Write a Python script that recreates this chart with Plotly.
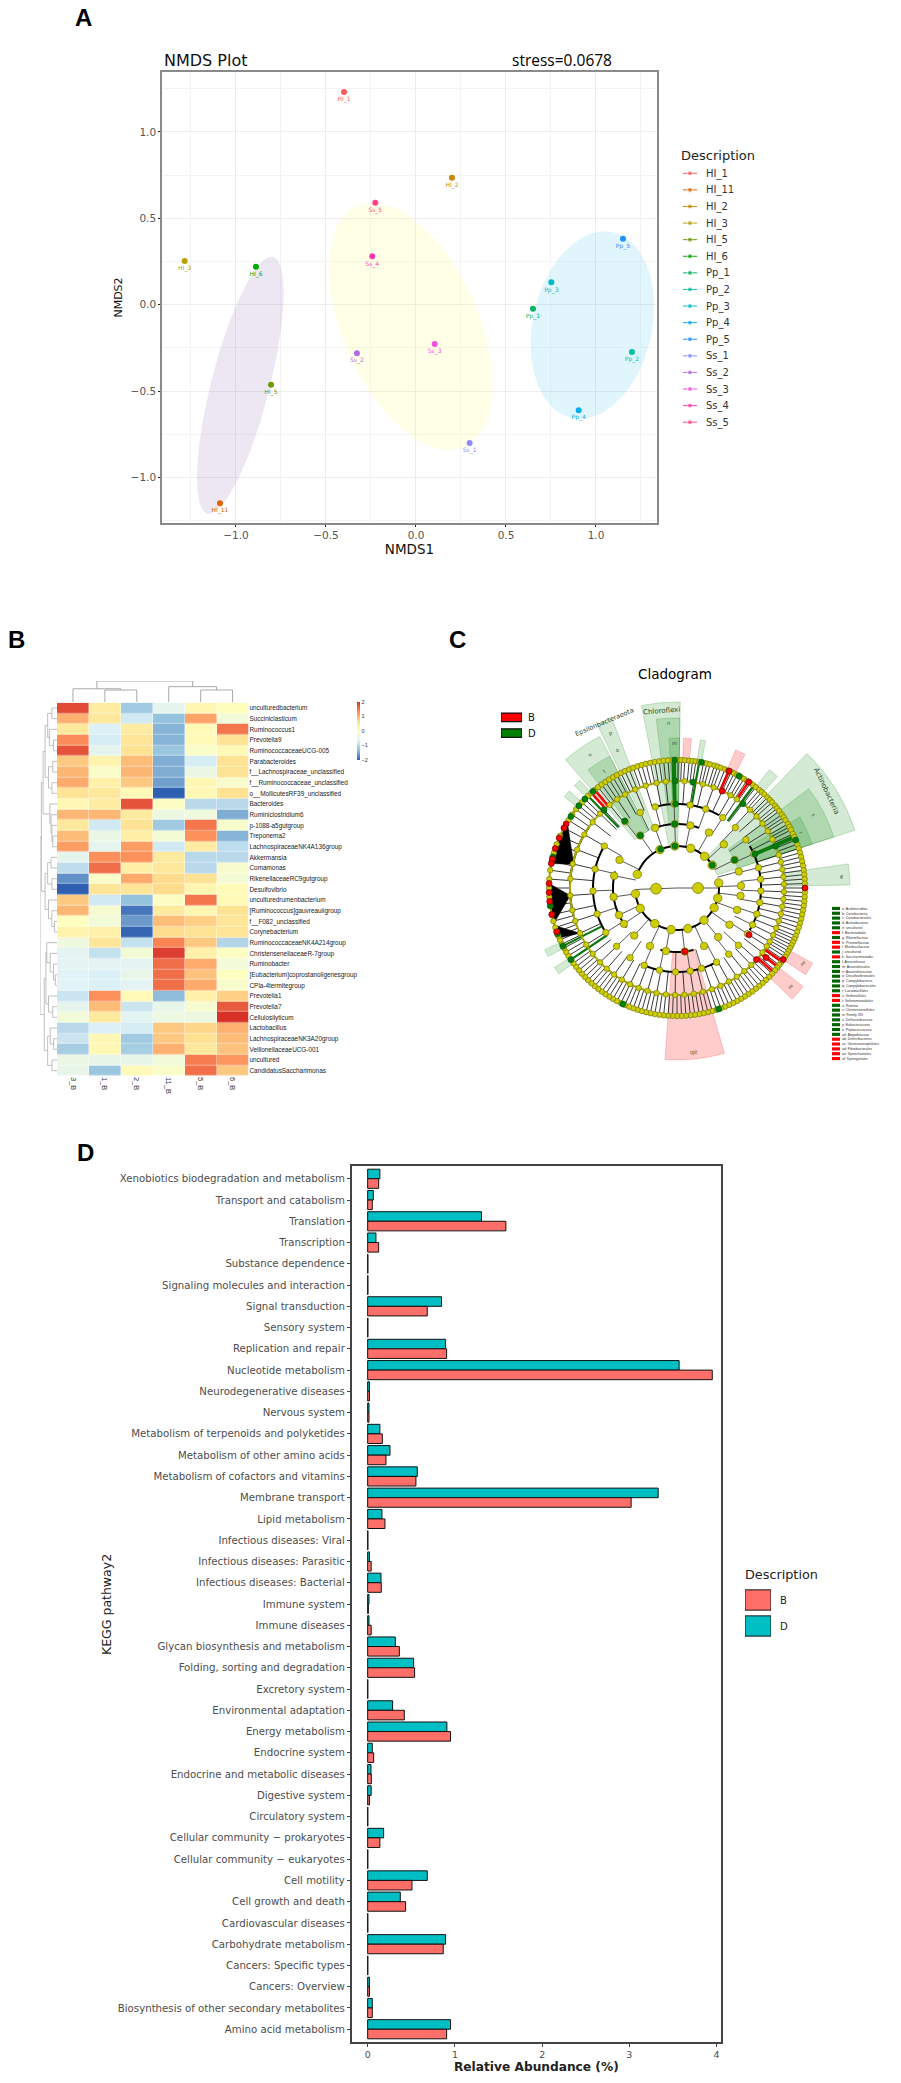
import numpy as np
import plotly.graph_objects as go

W, H = 901, 2083

# ---------- Panel A data
samples = ["HI_1","HI_11","HI_2","HI_3","HI_5","HI_6","Pp_1","Pp_2","Pp_3","Pp_4","Pp_5","Ss_1","Ss_2","Ss_3","Ss_4","Ss_5"]
nmds1 = [-0.40,-1.089,0.20,-1.285,-0.805,-0.889,0.65,1.20,0.752,0.904,1.15,0.298,-0.328,0.104,-0.243,-0.226]
nmds2 = [1.231,-1.148,0.735,0.253,-0.463,0.22,-0.023,-0.274,0.13,-0.61,0.382,-0.80,-0.28,-0.227,0.28,0.59]
sample_colors = ["#FF5A5A","#E06400","#CC8800","#B8A000","#6A9900","#00AA00","#00B560","#00BFA5","#00B8CC","#00AEEF","#1E90FF","#8A8CFF","#B36BE8","#EE50DC","#FF38B0","#FF3F8C"]
# centre x, centre y, sd x, sd y, correlation, fill
ell_cx = [-0.976,-0.03,0.98]
ell_cy = [-0.466,-0.125,-0.118]
ell_sx = [0.241,0.455,0.343]
ell_sy = [0.744,0.715,0.543]
ell_r = [0.72,-0.47,0.2]
ell_fill = ["rgba(150,110,190,0.17)","rgba(255,255,120,0.18)","rgba(90,200,240,0.18)"]

# ---------- Panel B data
genera = ["unculturedbacterium","Succiniclasticum","Ruminococcus1","Prevotella9","RuminococcaceaeUCG-005","Parabacteroides","f__Lachnospiraceae_unclassified","f__Ruminococcaceae_unclassified","o__MollicutesRF39_unclassified","Bacteroides","Ruminiclostridium6","p-1088-a5gutgroup","Treponema2","LachnospiraceaeNK4A136group","Akkermansia","Comamonas","RikenellaceaeRC9gutgroup","Desulfovibrio","unculturedrumenbacterium","[Ruminococcus]gauvreauiigroup","f__F082_unclassified","Corynebacterium","RuminococcaceaeNK4A214group","ChristensenellaceaeR-7group","Ruminobacter","[Eubacterium]coprostanoligenesgroup","CPla-4termitegroup","Prevotella1","Prevotella7","Cellulosilyticum","Lactobacillus","LachnospiraceaeNK3A20group","VeillonellaceaeUCG-001","uncultured","CandidatusSaccharimonas"]
heat_cols = ["3_B","1_B","2_B","11_B","5_B","6_B"]
heat_z = [
[1.8,.4,-1.2,-.55,.2,.05],[1.05,.5,-.8,-1.3,1.15,-.3],[.5,-.7,.4,-1.4,.1,1.5],[1.35,-.75,.55,-1.4,.1,.6],
[1.75,-.55,.6,-1.25,-.1,.1],[.85,.25,.95,-1.45,-.75,.6],[1.0,-.1,1.0,-1.45,-.45,.6],[1.1,.3,.85,-1.55,.15,-.15],
[.6,.5,.1,-2,.15,.65],[.15,.4,1.75,-.05,-1,-1],[1.0,1.0,.45,-.4,-.35,-1.45],[.5,-.8,.6,-1.2,1.5,-.15],
[.95,-.45,.35,-.25,1.3,-1.4],[1.2,-.55,1.2,-.8,.4,-.95],[-.55,1.3,1.3,.45,-1,-1],[-.95,1.55,.35,.5,-1,-.15],
[-1.65,-.1,1.1,.7,.6,-.25],[-2,.55,.55,.7,.2,.1],[.85,-.8,-1.3,-.05,1.5,.1],[1.0,-.2,-1.85,.45,.2,.6],
[0,-.3,-1.6,.95,.8,.55],[.25,.3,-1.95,.7,.6,.55],[-.35,.55,-.9,1.4,.85,-1.05],[-.6,-.9,-.25,1.9,.3,-.05],
[-.6,-.6,-.6,1.55,1.1,-.3],[-.65,-.7,-.5,1.55,.9,.0],[-.65,-.7,-.6,1.55,1.1,-.15],[-.85,1.3,.1,-1.35,.3,.8],
[-.55,.95,-.85,-.5,-.2,1.7],[-.3,.45,-.6,-.4,-.4,2.0],[-1,-.7,-.75,.85,.75,1.05],[-.85,.15,-1.2,.85,.65,.95],
[-1.15,.15,-1.15,1.05,.5,.9],[-.45,-.5,-.5,-.3,1.45,1.25],[-.5,-1.25,.1,-.1,1.55,.85]]
heat_scale = ["#2F5FB0","#91BFDB","#E0F3F8","#FFFFBF","#FEE090","#FC8D59","#D73027"]
col_tree = (1.0,(.63,0,(.57,1,2)),(.73,3,(.57,4,5)))
_t1 = (.55,(.3,0,1),(.45,2,(.2,3,4)))
_t2 = (.5,(.25,5,6),(.3,7,8))
_t3 = (.42,9,(.35,10,(.3,11,(.25,12,13))))
_t4 = (.55,(.35,14,15),(.3,16,17))
_t5 = (.5,18,(.3,19,(.15,20,21)))
_t6 = (.6,22,(.4,23,(.2,24,(.1,25,26))))
_t7 = (.5,27,(.25,28,29))
_t8 = (.4,30,(.2,31,32))
_t9 = (.3,33,34)
row_tree = (1.0,(.92,(.82,(.7,_t1,_t2),_t3),(.7,_t4,_t5)),(.75,(.65,_t6,_t7),(.55,_t8,_t9)))

# ---------- Panel C data (angles clockwise from the top, radii in level units)
level_r = [21,42,64,84,107,128]
level_angles = [
 [90,268],
 [289,336,357,19,41,57,83,104,118,140,165,188,212,241,262],
 [245,262,281,296,325,340,358,12,30,47,64,75,88,97,110,125,140,155,173,190,205,222,236],
 [238,252,268,283,300,322,334,345,358,9,20,33,44,55,66,76,84,92,100,108,116,123,133,142,152,163,171,181,192,203,214,226],
 [232,238,245,252,258,266,275,283,291,300,308,314,317,321,326,331,337,343,349,354,359,4,9,14,20,25,30,34,38,43,48,53,58,63,67,72,76,80,84,88,92,96,100,104,108,112,116,120,123,127,132,136,141,146,151,156,161,166,171,176,181,186,191,196,201,206,211,216,221,226],
 [0.5,2,3.5,5.5,7,8.5,10,12,13.5,15,17,18.5,20,22,23.5,25,26.5,28,30,31.5,33,35,36.5,38,40,41.5,43,45,46.5,48,50,51.5,53,55,56.5,58,60,61.5,63,65,66.5,68,70,72,74,76,78,80,82,84,86,88,90,92,94,96,98,100,102,104,106,108,110,112,113.5,115,116.5,118,119.5,121,122.5,124,125.5,127,128.5,130,132,134,136,138,140,142,144,146,148,150,152,154,156,158,160,162,164,166,168,170,172,174,176,178,180,182,184,186,188,190,192,194,196,198,200,202,204,206,208,210,212,214,216,218,220,222,224,226,228,230,232,234,236,238,240,242,244,246,248,250,252,255,258,262,266,270,274,278,282,286,290,294,298,302,305,308,310,312,314,316,318,320,322,324,326,328,330,332,334,336,338,340,342,344,346,348,350,352,354,356,358]]
node_size = [11,8.5,7.5,6.5,5.5,5.5]
green_theta = [359,359,359,358,357,337,325,322,11,8.5,29,38,68,67,66.4,64,57,205,161,319,314,317,310,304,284,262,249,243,236]
green_r = [128,107,84,64,42,42,64,85,128,107,128,107,128,107,85,64,42,128,128,128,128,107,128,128,128,128,128,128,128]
red_theta = [24,25,34,90,173,123,128,132,124,300,298,293,288,283,281,272,268,264,258,250]
red_r = [128,107,128,128,64,86,113,107,128,128,128,128,128,128,128,128,128,128,128,128]
arc_r = [42,42,64,64,64,84,84,84,84,107]
arc_a = [289,83,232,340,165,240,345,60,150,255]
arc_b = [417,262,285,380,195,300,390,120,205,305]
fan_apex = [283,266,245]
fan_apex_r = [106,107,107]
fan_a = [281,254,247]
fan_b = [301,272,253]
red_spokes = [318,320,24,34,125,128,131]
green_spokes = [358,359,10,37,66,67,316,243,236]
wedge_a = [44,53,60,82,-11,-7,-3,-41,-37,-26,2.5,9,23,38,-45,-51,242,234,164,119,128]
wedge_b = [72,72,72,89,1,1,1,-27,-27,-21,5.5,11,27,42,-42,-48,245,237,184,124,134]
wedge_r0 = [42,64,84,107,42,64,84,64,64,64,130,130,130,130,130,130,130,130,64,130,130]
wedge_r1 = [187,165,142,173,186,170,150,170,148,182,150,150,150,150,145,145,146,146,172,155,160]
wedge_kind = ["D","D","D","D","D","D","D","D","D","D","B","D","B","D","D","D","D","D","B","B","B"]
lefse_names = ["a: Acidimicrobiia","b: Coriobacteriia","c: Coriobacteriales","d: Actinobacteria","e: uncultured","f: Bacteroidales","g: Rikenellaceae","h: Prevotellaceae","i: Muribaculaceae","j: uncultured","k: Saccharimonadia","l: Anaerolineae","m: Anaerolineales","n: Anaerolineaceae","o: Desulfovibrionales","p: Campylobacteria","q: Campylobacterales","r: Lactobacillales","s: Veillonellales","t: Selenomonadales","u: Rumino","v: Christensenellales","w: Family XIII","x: Defluviitaleaceae","y: Eubacteriaceae","z: Peptococcaceae","a0: Atopobiaceae","ab: Deferribacteres","ac: Gastranaerophilales","ad: Fibrobacterales","ae: Spirochaetales","af: Synergistales"]
lefse_groups = ["D","D","D","D","D","B","D","B","B","D","B","D","D","D","D","D","D","D","B","B","D","D","D","D","D","D","D","B","B","B","B","B"]

# ---------- Panel D data
pathways = ["Xenobiotics biodegradation and metabolism","Transport and catabolism","Translation","Transcription","Substance dependence","Signaling molecules and interaction","Signal transduction","Sensory system","Replication and repair","Nucleotide metabolism","Neurodegenerative diseases","Nervous system","Metabolism of terpenoids and polyketides","Metabolism of other amino acids","Metabolism of cofactors and vitamins","Membrane transport","Lipid metabolism","Infectious diseases: Viral","Infectious diseases: Parasitic","Infectious diseases: Bacterial","Immune system","Immune diseases","Glycan biosynthesis and metabolism","Folding, sorting and degradation","Excretory system","Environmental adaptation","Energy metabolism","Endocrine system","Endocrine and metabolic diseases","Digestive system","Circulatory system","Cellular community − prokaryotes","Cellular community − eukaryotes","Cell motility","Cell growth and death","Cardiovascular diseases","Carbohydrate metabolism","Cancers: Specific types","Cancers: Overview","Biosynthesis of other secondary metabolites","Amino acid metabolism"]
abund_D = [.14,.065,1.305,.095,.003,.003,.847,.003,.893,3.57,.02,.015,.14,.256,.569,3.33,.164,.003,.02,.153,.015,.015,.317,.527,.002,.286,.908,.053,.038,.04,.002,.183,.002,.683,.374,.002,.893,.002,.02,.053,.95]
abund_B = [.126,.053,1.584,.126,.003,.003,.683,.003,.905,3.95,.02,.015,.168,.21,.553,3.02,.198,.003,.04,.156,.008,.04,.363,.538,.002,.42,.95,.069,.042,.02,.002,.14,.002,.508,.435,.002,.866,.002,.02,.053,.905]
group_names = ["B","D"]
group_colors = ["#FF6F69","#00BFC4"]

# ---------- helpers
def dx(a, b): return [a / W, b / W]
def dy(top, bottom): return [1 - bottom / H, 1 - top / H]

fig = go.Figure()
annots = []
def ann(text, x, y, size, color="#000", family="DejaVu Sans", rot=0, anchor="center"):
    annots.append(dict(text=text, x=x / W, y=1 - y / H, xref="paper", yref="paper", showarrow=False,
                       font=dict(size=size, color=color, family=family), textangle=rot,
                       xanchor=anchor, yanchor="middle"))
hidden = dict(visible=False, showgrid=False, zeroline=False)

# ---------- Panel A
t = np.linspace(0, 2 * np.pi, 181)
for cx, cy, sx, sy, r, c in zip(ell_cx, ell_cy, ell_sx, ell_sy, ell_r, ell_fill):
    fig.add_trace(go.Scatter(x=cx + sx * np.cos(t), y=cy + sy * (r * np.cos(t) + np.sqrt(1 - r * r) * np.sin(t)),
                             mode="lines", line=dict(width=0), fill="toself", fillcolor=c, xaxis="x", yaxis="y",
                             hoverinfo="skip", showlegend=False))
for s, a, b, c in zip(samples, nmds1, nmds2, sample_colors):
    fig.add_trace(go.Scatter(x=[a], y=[b], mode="markers+text", text=[s], textposition="bottom center",
                             textfont=dict(size=6, color=c, family="DejaVu Sans"), marker=dict(size=6, color=c),
                             name=s, xaxis="x", yaxis="y", showlegend=False))
    fig.add_trace(go.Scatter(x=[0, .5, 1], y=[s, s, s], mode="lines+markers", line=dict(color=c, width=1),
                             marker=dict(size=[0, 5, 0], color=c), xaxis="x2", yaxis="y2", hoverinfo="skip", showlegend=False))
gridc = "#ECECEC"
axA = dict(showline=True, mirror=True, linecolor="#8A8A8A", linewidth=1.6, zeroline=False, showgrid=True, gridcolor=gridc,
           gridwidth=1.4, minor=dict(showgrid=True, gridcolor="#F4F4F4", gridwidth=1, dtick=0.25, tick0=0),
           ticks="outside", ticklen=2, tickcolor="#222", dtick=0.5, tick0=0, tickformat=".1f",
           tickfont=dict(size=10.5, color="#555", family="DejaVu Sans"))
xaxis = dict(axA, domain=dx(162, 657), range=[-1.411, 1.339], anchor="y",
             title=dict(text="NMDS1", standoff=3, font=dict(size=13.5, color="#111", family="DejaVu Sans")))
yaxis = dict(axA, domain=dy(72, 523), range=[-1.263, 1.347], anchor="x",
             title=dict(text="NMDS2", standoff=6, font=dict(size=11, color="#111", family="DejaVu Sans")))
xaxis2 = dict(hidden, domain=dx(683, 697), range=[0, 1], anchor="y2")
yaxis2 = dict(domain=dy(165, 430.5), type="category", categoryorder="array", categoryarray=samples, range=[15.5, -0.5],
              side="right", anchor="x2", showgrid=False, zeroline=False, showline=False, ticks="", ticklabelstandoff=8,
              tickfont=dict(size=10, color="#333", family="DejaVu Sans"))
ann("NMDS Plot", 162, 60, 16, "#111", anchor="left")
ann("stress=0.0678", 510, 60, 15.5, "#000", "Open Sans", anchor="left")
ann("Description", 679, 155, 13, "#222", anchor="left")
ann("<b>A</b>", 83, 18, 24, "#000", "Liberation Sans")
ann("<b>B</b>", 16, 640, 24, "#000", "Liberation Sans")
ann("<b>C</b>", 457, 640, 24, "#000", "Liberation Sans")
ann("<b>D</b>", 85, 1152, 24, "#000", "Liberation Sans")

# ---------- Panel B
fig.add_trace(go.Heatmap(z=heat_z, x=heat_cols, y=genera, coloraxis="coloraxis", xgap=0.4, ygap=0.4, xaxis="x3", yaxis="y3"))
xaxis3 = dict(domain=dx(57, 248.5), anchor="y3", type="category", side="bottom", ticks="", showgrid=False, zeroline=False,
              tickangle=90, tickfont=dict(size=7.5, color="#333", family="Liberation Sans"))
yaxis3 = dict(domain=dy(702.7, 1076), anchor="x3", type="category", categoryorder="array", categoryarray=genera,
              range=[34.5, -0.5], side="right", ticks="", showgrid=False, zeroline=False,
              tickfont=dict(size=6.4, color="#222", family="Liberation Sans"))
def tree_segments(node):
    if not isinstance(node, tuple):
        return float(node), 0.0, [], []
    h, a, b = node
    pa, ha, ua, va = tree_segments(a)
    pb, hb, ub, vb = tree_segments(b)
    u = ua + ub + [pa, pa, pb, pb, None]
    v = va + vb + [ha, h, h, hb, None]
    return (pa + pb) / 2, h, u, v
_, _, cu, cv = tree_segments(col_tree)
fig.add_trace(go.Scatter(x=cu, y=cv, mode="lines", line=dict(color="#A0A0A0", width=0.9), xaxis="x4", yaxis="y4", hoverinfo="skip", showlegend=False))
xaxis4 = dict(hidden, domain=dx(57, 248.5), range=[-0.5, 5.5], anchor="y4")
yaxis4 = dict(hidden, domain=dy(681, 702), range=[0, 1], anchor="x4")
_, _, ru, rv = tree_segments(row_tree)
fig.add_trace(go.Scatter(x=rv, y=ru, mode="lines", line=dict(color="#B0B0B0", width=0.8), xaxis="x5", yaxis="y5", hoverinfo="skip", showlegend=False))
xaxis5 = dict(hidden, domain=dx(40, 57), range=[1, 0], anchor="y5")
yaxis5 = dict(hidden, domain=dy(702.7, 1076), range=[34.5, -0.5], anchor="x5")

# ---------- Panel C
polar = dict(domain=dict(x=dx(677 - 190, 677 + 190), y=dy(888 - 190, 888 + 190)), bgcolor="rgba(0,0,0,0)", barmode="overlay",
             radialaxis=dict(visible=False, range=[0, 190]),
             angularaxis=dict(visible=False, direction="clockwise", rotation=90))
kind_fill = {"D": "rgba(0,128,0,0.17)", "B": "rgba(255,0,0,0.2)"}
kind_line = {"D": "rgba(0,128,0,0.25)", "B": "rgba(255,0,0,0.25)"}
fig.add_trace(go.Barpolar(theta=[(a + b) / 2 for a, b in zip(wedge_a, wedge_b)], width=[b - a for a, b in zip(wedge_a, wedge_b)],
                          base=wedge_r0, r=[r1 - r0 for r0, r1 in zip(wedge_r0, wedge_r1)],
                          marker=dict(color=[kind_fill[k] for k in wedge_kind], line=dict(color=[kind_line[k] for k in wedge_kind], width=0.8)),
                          subplot="polar", hoverinfo="skip", showlegend=False))
def spokes(angles, r0, r1, color, width):
    th, rr = [], []
    for a in angles:
        th += [a, a, None]
        rr += [r0, r1, None]
    fig.add_trace(go.Scatterpolar(theta=th, r=rr, mode="lines", line=dict(color=color, width=width), subplot="polar", hoverinfo="skip", showlegend=False))
spokes(level_angles[0], 0, level_r[1], "#555", 1)
for i in range(1, 5):
    spokes(level_angles[i + 1], level_r[i], level_r[i + 1], "#222" if i > 2 else "#444", 0.9)
spokes(red_spokes, 107, 128, "#F00", 2.6)
spokes(green_spokes, 84, 128, "#0A7A0A", 2.2)
for a, b, rr in zip(arc_a, arc_b, arc_r):
    th = np.linspace(a, b, 40)
    fig.add_trace(go.Scatterpolar(theta=th, r=[rr] * 40, mode="lines", line=dict(color="#000", width=2), subplot="polar", hoverinfo="skip", showlegend=False))
for ap, apr, a, b in zip(fan_apex, fan_apex_r, fan_a, fan_b):
    th = np.concatenate([[ap], np.linspace(a, b, 12), [ap]])
    fig.add_trace(go.Scatterpolar(theta=th, r=[apr] + [128] * 12 + [apr], mode="lines", fill="toself", fillcolor="#000", line=dict(color="#000", width=0.5), subplot="polar", hoverinfo="skip", showlegend=False))
for rr in level_r[4:]:
    th = np.linspace(0, 360, 361)
    fig.add_trace(go.Scatterpolar(theta=th, r=[rr] * 361, mode="lines", line=dict(color="#A8A800", width=2), subplot="polar", hoverinfo="skip", showlegend=False))
for rr, ang, sz in zip(level_r, level_angles, node_size):
    fig.add_trace(go.Scatterpolar(theta=ang, r=[rr] * len(ang), mode="markers", marker=dict(size=sz, color="#CDCD00", line=dict(color="#66660A", width=0.6)), subplot="polar", hoverinfo="skip", showlegend=False))
fig.add_trace(go.Scatterpolar(theta=green_theta, r=green_r, mode="markers", marker=dict(size=6, color="#008000", line=dict(color="#052", width=0.6)), subplot="polar", hoverinfo="skip", showlegend=False))
fig.add_trace(go.Scatterpolar(theta=red_theta, r=red_r, mode="markers", marker=dict(size=6, color="#FF0000", line=dict(color="#400", width=0.6)), subplot="polar", hoverinfo="skip", showlegend=False))
def pol(angle, r):
    a = np.deg2rad(angle)
    return 677 + r * np.sin(a), 888 - r * np.cos(a)
ann("Cladogram", 636, 674, 13.5, "#000", "DejaVu Sans", anchor="left")
for txt, ang, r, rot, sz in [("Actinobacteria", 57, 178, 65, 7), ("Epsilonbacteraeota", -23.5, 181, -23, 6.5), ("Chloroflexi", -5, 178, -5, 7),
                             ("qe", 174, 165, -8, 6), ("u", -33, 160, -30, 5), ("t", -32, 138, -30, 5), ("p", -23.5, 168, -20, 5),
                             ("o", -23.5, 150, -20, 5), ("n", -3, 165, 0, 5), ("m", -1, 145, 0, 5), ("w", 86, 165, 85, 5),
                             ("s", 62, 155, 60, 5), ("r", 66, 136, 60, 5), ("ad", 121, 146, -35, 4), ("ae", 131, 150, -35, 4)]:
    x_, y_ = pol(ang, r)
    ann(txt, x_, y_, sz, "#2A4A2A" if rot != -8 else "#553", "DejaVu Sans", rot)
for g, c in zip(group_names, ["#FF0000", "#008000"]):
    fig.add_trace(go.Bar(x=[1], y=[g], orientation="h", marker=dict(color=c, line=dict(color="#111", width=1.2)), width=0.55, xaxis="x6", yaxis="y6", hoverinfo="skip", showlegend=False))
xaxis6 = dict(hidden, domain=dx(501, 522), range=[0, 1], anchor="y6")
yaxis6 = dict(domain=dy(709.5, 741), anchor="x6", type="category", categoryorder="array", categoryarray=group_names, range=[1.5, -0.5],
              side="right", ticks="", showgrid=False, zeroline=False, showline=False, ticklabelstandoff=5,
              tickfont=dict(size=10, color="#111", family="DejaVu Sans"))
fig.add_trace(go.Bar(x=[1] * len(lefse_names), y=lefse_names, orientation="h", width=0.65,
                     marker=dict(color=["#FF0000" if g == "B" else "#006400" for g in lefse_groups], line=dict(width=0)),
                     xaxis="x7", yaxis="y7", hoverinfo="skip", showlegend=False))
xaxis7 = dict(hidden, domain=dx(832, 840), range=[0, 1], anchor="y7")
yaxis7 = dict(domain=dy(906, 1061), anchor="x7", type="category", categoryorder="array", categoryarray=lefse_names,
              range=[31.5, -0.5], side="right", ticks="", showgrid=False, zeroline=False, showline=False, dtick=1, ticklabelstandoff=1,
              tickfont=dict(size=3.5, color="#333", family="Liberation Sans"))

# ---------- Panel D (axis is reversed, so the first trace sits on top of each pair)
fig.add_trace(go.Bar(x=abund_D, y=pathways, orientation="h", name="D", marker=dict(color=group_colors[1], line=dict(color="#111", width=1)), xaxis="x8", yaxis="y8", showlegend=False, offsetgroup="D"))
fig.add_trace(go.Bar(x=abund_B, y=pathways, orientation="h", name="B", marker=dict(color=group_colors[0], line=dict(color="#111", width=1)), xaxis="x8", yaxis="y8", showlegend=False, offsetgroup="B"))
xaxis8 = dict(domain=dx(351.7, 721), range=[-0.183, 4.05], anchor="y8", showline=True, mirror=True, linecolor="#444", linewidth=1.6,
              showgrid=False, zeroline=False, ticks="outside", ticklen=3, tickcolor="#444", dtick=1, tick0=0,
              tickfont=dict(size=9.5, color="#4D4D4D", family="DejaVu Sans"),
              title=dict(text="<b>Relative Abundance (%)</b>", standoff=2, font=dict(size=12.2, color="#222", family="DejaVu Sans")))
yaxis8 = dict(domain=dy(1166, 2042), anchor="x8", type="category", categoryorder="array", categoryarray=pathways,
              range=[40.6, -0.6], showline=True, mirror=True, linecolor="#444", linewidth=1.6, showgrid=False, zeroline=False,
              ticks="outside", ticklen=3, tickcolor="#444", dtick=1,
              tickfont=dict(size=10.2, color="#4D4D4D", family="DejaVu Sans"))
ann("KEGG pathway2", 106, 1605, 12.5, "#222", "DejaVu Sans", -90)
ann("Description", 743, 1574, 12.8, "#222", anchor="left")
for g, c in zip(group_names, group_colors):
    fig.add_trace(go.Bar(x=[1], y=[g], orientation="h", marker=dict(color=c, line=dict(color="#111", width=1)), width=0.78,
                         xaxis="x9", yaxis="y9", hoverinfo="skip", showlegend=False))
xaxis9 = dict(hidden, domain=dx(745, 771), range=[0, 1], anchor="y9")
yaxis9 = dict(domain=dy(1587, 1639), anchor="x9", type="category", categoryorder="array", categoryarray=group_names, range=[1.5, -0.5],
              side="right", ticks="", showgrid=False, zeroline=False, showline=False, ticklabelstandoff=8,
              tickfont=dict(size=10, color="#222", family="DejaVu Sans"))

fig.update_layout(
    width=W, height=H, margin=dict(l=0, r=0, t=0, b=0), paper_bgcolor="#fff", plot_bgcolor="rgba(0,0,0,0)",
    showlegend=False, bargap=0.1, bargroupgap=0, barmode="group", annotations=annots, polar=polar,
    coloraxis=dict(cmin=-2, cmax=2, colorscale=[[i / 6, c] for i, c in enumerate(heat_scale)],
                   colorbar=dict(x=357 / W, xanchor="left", y=1 - 760 / H, yanchor="bottom", len=58 / H, lenmode="fraction",
                                 thickness=3, thicknessmode="pixels", tickvals=[-2, -1, 0, 1, 2], ticks="", outlinewidth=0,
                                 xpad=0, ypad=0, tickfont=dict(size=5.5, color="#333", family="Liberation Sans"))),
    xaxis=xaxis, yaxis=yaxis, xaxis2=xaxis2, yaxis2=yaxis2, xaxis3=xaxis3, yaxis3=yaxis3, xaxis4=xaxis4, yaxis4=yaxis4,
    xaxis5=xaxis5, yaxis5=yaxis5, xaxis6=xaxis6, yaxis6=yaxis6, xaxis7=xaxis7, yaxis7=yaxis7, xaxis8=xaxis8, yaxis8=yaxis8,
    xaxis9=xaxis9, yaxis9=yaxis9)
fig.write_html("out.html", post_script="document.body.style.margin='0';", config=dict(displayModeBar=False))
